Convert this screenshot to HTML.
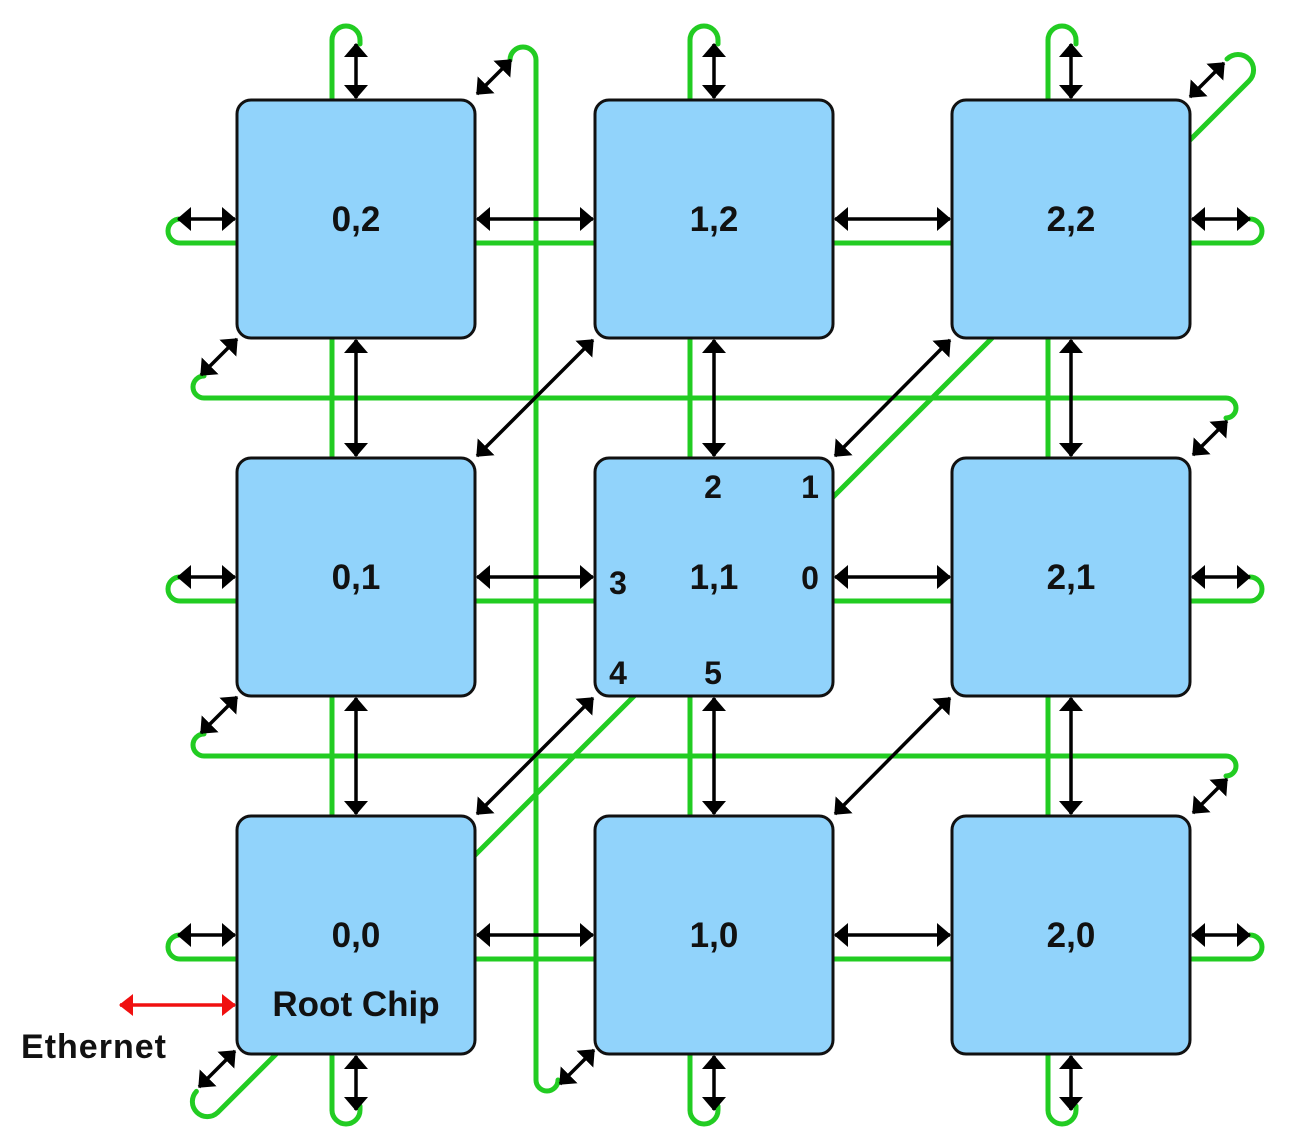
<!DOCTYPE html>
<html><head><meta charset="utf-8"><style>
html,body{margin:0;padding:0;background:#fff;}
svg{display:block}
text{font-family:"Liberation Sans",sans-serif;font-weight:bold;fill:#111}
</style></head><body>
<svg width="1290" height="1146" viewBox="0 0 1290 1146" xmlns="http://www.w3.org/2000/svg">
<defs>
<marker id="a" viewBox="0 0 14 24" refX="13" refY="12" markerWidth="14" markerHeight="24" orient="auto-start-reverse" markerUnits="userSpaceOnUse"><path d="M0,0L14,12L0,24z" fill="#000"/></marker>
<marker id="r" viewBox="0 0 14 22" refX="13" refY="11" markerWidth="14" markerHeight="22" orient="auto-start-reverse" markerUnits="userSpaceOnUse"><path d="M0,0L14,11L0,22z" fill="#f01010"/></marker>
</defs>
<g fill="none" stroke="#22cc22" stroke-width="5" stroke-linecap="round">
<path d="M332,1110 V40 A14,14 0 0 1 360,40 V44"/>
<path d="M332,1110 A14,14 0 0 0 360,1110 V1106"/>
<path d="M690,1110 V40 A14,14 0 0 1 718,40 V44"/>
<path d="M690,1110 A14,14 0 0 0 718,1110 V1106"/>
<path d="M1048,1110 V40 A14,14 0 0 1 1076,40 V44"/>
<path d="M1048,1110 A14,14 0 0 0 1076,1110 V1106"/>
<path d="M510,60 A13,13 0 0 1 536,60 V1080 A11,11 0 0 0 558,1080"/>
<path d="M180,219 A12,12 0 0 0 180,243 H1250 A12,12 0 0 0 1250,219"/>
<path d="M180,577 A12,12 0 0 0 180,601 H1250 A12,12 0 0 0 1250,577"/>
<path d="M180,935 A12,12 0 0 0 180,959 H1250 A12,12 0 0 0 1250,935"/>
<path d="M204,376 A11,11 0 0 0 204,398 H1226 A10,10 0 0 1 1226,418"/>
<path d="M204,734 A11,11 0 0 0 204,756 H1226 A10,10 0 0 1 1226,776"/>
<path d="M1227,59 A15,15 0 0 1 1249,81 L217.6,1112.6 A15,15 0 0 1 196.4,1091.4"/>
</g>
<g fill="#91d3fb" stroke="#111" stroke-width="3">
<rect x="237" y="100" width="238" height="238" rx="14"/>
<rect x="595" y="100" width="238" height="238" rx="14"/>
<rect x="952" y="100" width="238" height="238" rx="14"/>
<rect x="237" y="458" width="238" height="238" rx="14"/>
<rect x="595" y="458" width="238" height="238" rx="14"/>
<rect x="952" y="458" width="238" height="238" rx="14"/>
<rect x="237" y="816" width="238" height="238" rx="14"/>
<rect x="595" y="816" width="238" height="238" rx="14"/>
<rect x="952" y="816" width="238" height="238" rx="14"/>
</g>
<g stroke="#000" stroke-width="3.5" marker-start="url(#a)" marker-end="url(#a)">
<line x1="356" y1="44" x2="356" y2="98"/><line x1="714" y1="44" x2="714" y2="98"/><line x1="1071" y1="44" x2="1071" y2="98"/>
<line x1="356" y1="340" x2="356" y2="456"/><line x1="714" y1="340" x2="714" y2="456"/><line x1="1071" y1="340" x2="1071" y2="456"/>
<line x1="356" y1="698" x2="356" y2="814"/><line x1="714" y1="698" x2="714" y2="814"/><line x1="1071" y1="698" x2="1071" y2="814"/>
<line x1="356" y1="1056" x2="356" y2="1110"/><line x1="714" y1="1056" x2="714" y2="1110"/><line x1="1071" y1="1056" x2="1071" y2="1110"/>
<line x1="178" y1="219" x2="235" y2="219"/><line x1="477" y1="219" x2="593" y2="219"/><line x1="835" y1="219" x2="950" y2="219"/><line x1="1192" y1="219" x2="1250" y2="219"/>
<line x1="178" y1="577" x2="235" y2="577"/><line x1="477" y1="577" x2="593" y2="577"/><line x1="835" y1="577" x2="950" y2="577"/><line x1="1192" y1="577" x2="1250" y2="577"/>
<line x1="178" y1="935" x2="235" y2="935"/><line x1="477" y1="935" x2="593" y2="935"/><line x1="835" y1="935" x2="950" y2="935"/><line x1="1192" y1="935" x2="1250" y2="935"/>
<line x1="477" y1="456" x2="593" y2="340"/><line x1="835" y1="456" x2="950" y2="340"/>
<line x1="477" y1="814" x2="593" y2="698"/><line x1="835" y1="814" x2="950" y2="698"/>
<line x1="477" y1="94" x2="511" y2="60"/><line x1="1190" y1="97" x2="1224" y2="63"/>
<line x1="201" y1="375" x2="237" y2="339"/><line x1="1193" y1="455" x2="1227" y2="421"/>
<line x1="201" y1="733" x2="237" y2="697"/><line x1="1193" y1="813" x2="1227" y2="779"/>
<line x1="199" y1="1087" x2="235" y2="1051"/><line x1="560" y1="1084" x2="594" y2="1050"/>
</g>
<line x1="120" y1="1005" x2="235" y2="1005" stroke="#f01010" stroke-width="3.5" marker-start="url(#r)" marker-end="url(#r)"/>
<g font-size="35" text-anchor="middle">
<text x="356" y="231">0,2</text><text x="714" y="231">1,2</text><text x="1071" y="231">2,2</text>
<text x="356" y="589">0,1</text><text x="714" y="589">1,1</text><text x="1071" y="589">2,1</text>
<text x="356" y="947">0,0</text><text x="714" y="947">1,0</text><text x="1071" y="947">2,0</text>
<text x="356" y="1016">Root Chip</text>
</g>
<g font-size="32" text-anchor="middle">
<text x="713" y="498">2</text><text x="810" y="498">1</text>
<text x="618" y="594">3</text><text x="810" y="589">0</text>
<text x="618" y="684">4</text><text x="713" y="684">5</text>
</g>
<text x="94" y="1058" font-size="34" text-anchor="middle" letter-spacing="1">Ethernet</text>
</svg>
</body></html>
